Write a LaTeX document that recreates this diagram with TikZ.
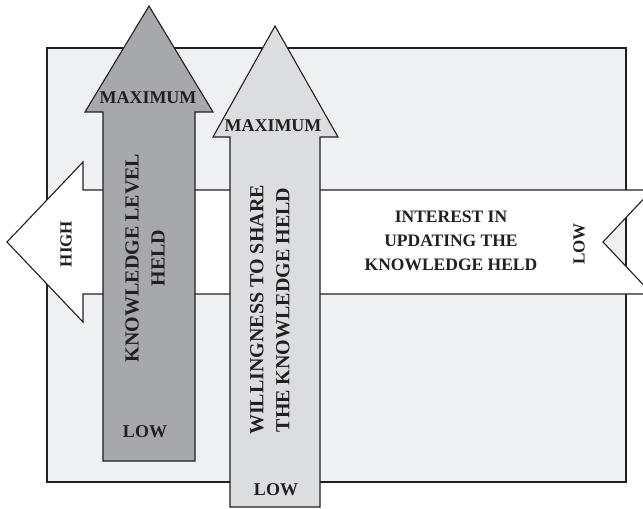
\documentclass[tikz,border=0pt]{standalone}
\usepackage{fontspec}
\setmainfont{Liberation Serif}
\definecolor{paneBg}{RGB}{239,240,242}
\definecolor{darkArrow}{RGB}{167,168,171}
\definecolor{lightArrow}{RGB}{220,221,223}
\definecolor{inkLine}{RGB}{35,31,32}
\tikzset{
  outline/.style={draw=inkLine, line width=1.1pt, line join=miter},
  lbl/.style={font=\fontsize{18}{23}\selectfont\bfseries, text=inkLine, inner sep=0pt, align=center},
  biglbl/.style={lbl, font=\fontsize{20}{26}\selectfont\bfseries},
  midlbl/.style={lbl, font=\fontsize{17.5}{24}\selectfont\bfseries},
  smalllbl/.style={lbl, font=\fontsize{17}{20}\selectfont\bfseries},
}
\begin{document}
\begin{tikzpicture}[x=1pt, y=-1pt]
  \useasboundingbox (0,0) rectangle (643,509);
  \clip (0,0) rectangle (643,509);
  % background panel
  \fill[white] (0,0) rectangle (643,509);
  \draw[outline, fill=paneBg] (47,48) rectangle (626,482);
  % horizontal arrow with notched tail
  \draw[outline, fill=white] (7,242) -- (83,162) -- (83,190) -- (652,190) -- (603,242)
        -- (652,294) -- (83,294) -- (83,322) -- cycle;
  % knowledge level arrow
  \draw[outline, fill=darkArrow] (149,6) -- (213,112) -- (195,112) -- (195,461)
        -- (103,461) -- (103,112) -- (85,112) -- cycle;
  % willingness arrow
  \draw[outline, fill=lightArrow] (275,26) -- (338,137) -- (320,137) -- (320,507)
        -- (230,507) -- (230,137) -- (213,137) -- cycle;
  % labels
  \node[smalllbl] (high) at (66,244) [rotate=90] {HIGH};
  \node[midlbl] (interest) at (451,241) {INTEREST IN\\UPDATING THE\\KNOWLEDGE HELD};
  \node[smalllbl] (lowh) at (579,244) [rotate=90] {LOW};
  \node[lbl] (maxk) at (148,98) {MAXIMUM};
  \node[biglbl] (knowledge) at (145,258) [rotate=90] {KNOWLEDGE LEVEL\\HELD};
  \node[lbl] (lowk) at (145,432) {LOW};
  \node[lbl] (maxw) at (273,126) {MAXIMUM};
  \node[biglbl] (willing) at (270,310) [rotate=90] {WILLINGNESS TO SHARE\\THE KNOWLEDGE HELD};
  \node[lbl] (loww) at (276,490) {LOW};
\end{tikzpicture}
\end{document}
